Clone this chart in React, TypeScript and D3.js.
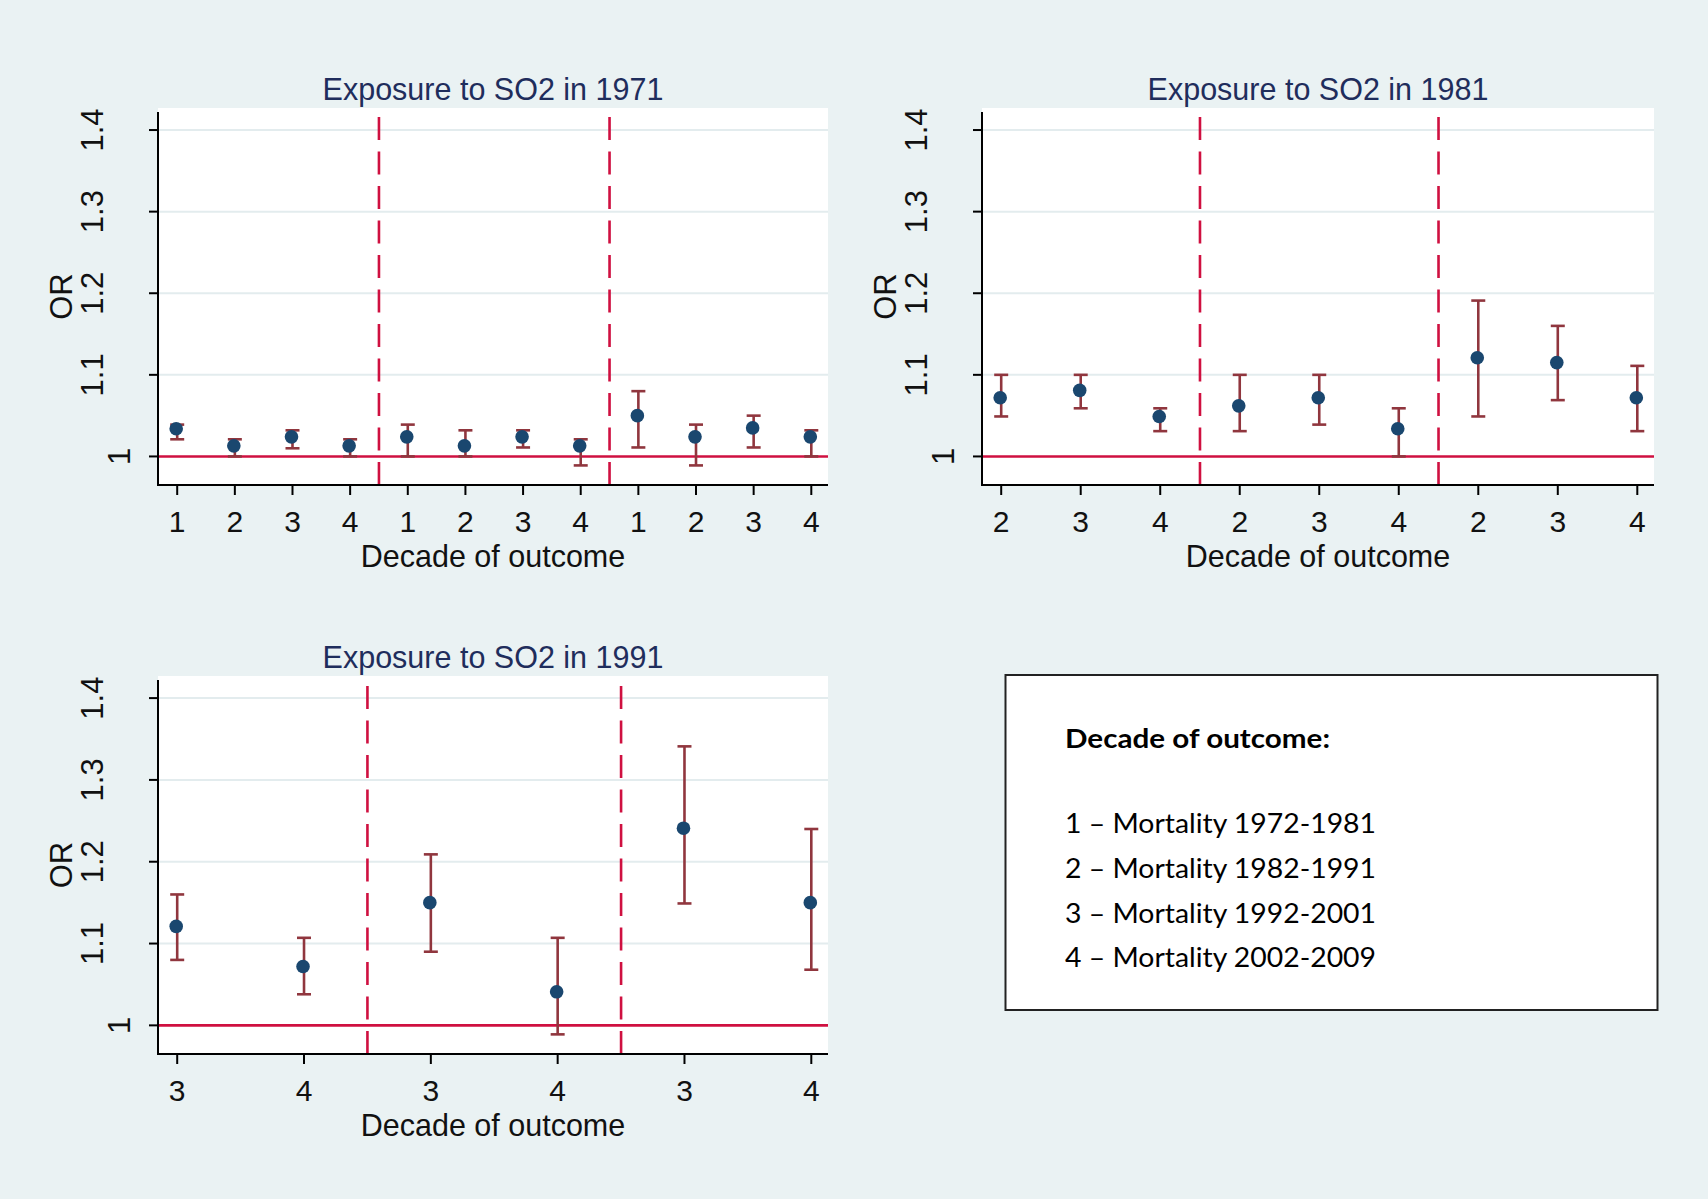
import * as d3 from 'd3';

// Odds ratios with 95% CI
const decades1971 = [1, 2, 3, 4, 1, 2, 3, 4, 1, 2, 3, 4];
const or1971 = [1.034, 1.013, 1.024, 1.013, 1.024, 1.013, 1.024, 1.013, 1.05, 1.024, 1.035, 1.024];
const lo1971 = [1.021, 1.0, 1.01, 1.0, 1.0, 1.0, 1.011, 0.989, 1.011, 0.989, 1.011, 1.0];
const hi1971 = [1.039, 1.021, 1.032, 1.021, 1.039, 1.032, 1.032, 1.021, 1.08, 1.039, 1.05, 1.032];

const decades1981 = [2, 3, 4, 2, 3, 4, 2, 3, 4];
const or1981 = [1.072, 1.081, 1.049, 1.062, 1.072, 1.034, 1.121, 1.115, 1.072];
const lo1981 = [1.049, 1.059, 1.031, 1.031, 1.039, 1.0, 1.049, 1.069, 1.031];
const hi1981 = [1.1, 1.1, 1.059, 1.1, 1.1, 1.059, 1.191, 1.16, 1.111];

const decades1991 = [3, 4, 3, 4, 3, 4];
const or1991 = [1.121, 1.072, 1.15, 1.041, 1.241, 1.15];
const lo1991 = [1.08, 1.038, 1.09, 0.989, 1.149, 1.068];
const hi1991 = [1.16, 1.107, 1.209, 1.107, 1.341, 1.24];

const yTickValues = [1, 1.1, 1.2, 1.3, 1.4];
const yTickLabels = ['1', '1.1', '1.2', '1.3', '1.4'];
const yDomain = [0.965, 1.427];
const nGroups = 3;

const legendTitle = 'Decade of outcome:';
const legendCodes = [1, 2, 3, 4];
const legendPeriods = ['1972-1981', '1982-1991', '1992-2001', '2002-2009'];

const BG = '#eaf2f3';
const NAVY = '#1a476f';
const MAROON = '#90363e';
const RED = '#cf1040';
const TITLE = '#1f2d5c';
const FONT = '"Liberation Sans", Arial, sans-serif';

const boxes = [
  { left: 158, top: 108, right: 828, bottom: 485 },
  { left: 982, top: 108, right: 1654, bottom: 485 },
  { left: 158, top: 676, right: 828, bottom: 1054 },
];

function Panel({ title, decades, est, lo, hi, box }) {
  const n = decades.length;
  const x = d3
    .scaleLinear()
    .domain([0, n - 1])
    .range([box.left + 19.2, box.right - 16.7]);
  const y = d3.scaleLinear().domain(yDomain).range([box.bottom, box.top]);
  const groupSize = n / nGroups;
  const seps = d3.range(1, nGroups).map((k) => k * groupSize - 0.5);
  const cx = (box.left + box.right) / 2;
  const cy = (box.top + box.bottom) / 2;

  return (
    <g>
      <rect
        x={box.left}
        y={box.top}
        width={box.right - box.left}
        height={box.bottom - box.top}
        fill="#fff"
      />
      {/* gridlines */}
      {yTickValues.slice(1).map((v) => (
        <line
          key={v}
          x1={box.left}
          x2={box.right}
          y1={y(v)}
          y2={y(v)}
          stroke="#e3ecee"
          strokeWidth={2}
        />
      ))}
      {/* reference line at OR = 1 */}
      <line x1={box.left} x2={box.right} y1={y(1)} y2={y(1)} stroke={RED} strokeWidth={2.6} />
      {/* group separators */}
      {seps.map((s) => (
        <line
          key={s}
          x1={x(s)}
          x2={x(s)}
          y1={box.bottom}
          y2={box.top + 4}
          stroke={RED}
          strokeWidth={2.6}
          strokeDasharray="23 11.5"
        />
      ))}
      {/* CIs */}
      {decades.map((d, i) => (
        <g key={i} stroke={MAROON} strokeWidth={2.6}>
          <line x1={x(i)} x2={x(i)} y1={y(lo[i])} y2={y(hi[i])} />
          <line x1={x(i) - 7} x2={x(i) + 7} y1={y(lo[i])} y2={y(lo[i])} />
          <line x1={x(i) - 7} x2={x(i) + 7} y1={y(hi[i])} y2={y(hi[i])} />
        </g>
      ))}
      {est.map((v, i) => (
        <circle key={i} cx={x(i) - 1} cy={y(v)} r={6.8} fill={NAVY} />
      ))}
      {/* axes */}
      <line x1={box.left} x2={box.left} y1={box.top + 4} y2={box.bottom + 1} stroke="#000" strokeWidth={2} />
      <line x1={box.left - 1} x2={box.right} y1={box.bottom} y2={box.bottom} stroke="#000" strokeWidth={2} />
      {yTickValues.map((v, i) => (
        <g key={v}>
          <line x1={box.left - 9} x2={box.left} y1={y(v)} y2={y(v)} stroke="#000" strokeWidth={2} />
          <text
            transform={`translate(${box.left - (yTickLabels[i].length === 1 ? 28 : 55)},${y(v)}) rotate(-90)`}
            textAnchor="middle"
            fontSize={31}
            fill="#111"
          >
            {yTickLabels[i]}
          </text>
        </g>
      ))}
      {decades.map((d, i) => (
        <g key={i}>
          <line x1={x(i)} x2={x(i)} y1={box.bottom} y2={box.bottom + 10} stroke="#000" strokeWidth={2} />
          <text x={x(i)} y={box.bottom + 47} textAnchor="middle" fontSize={30} fill="#111">
            {d}
          </text>
        </g>
      ))}
      <text x={cx} y={box.top - 8} textAnchor="middle" fontSize={30.5} fill={TITLE}>
        {title}
      </text>
      <text x={cx} y={box.bottom + 81.5} textAnchor="middle" fontSize={30.5} fill="#111">
        Decade of outcome
      </text>
      <text
        transform={`translate(${box.left - 86},${cy}) rotate(-90)`}
        textAnchor="middle"
        fontSize={31}
        fill="#111"
      >
        OR
      </text>
    </g>
  );
}

export default function App() {
  return (
    <div style={{ position: 'absolute', left: 0, top: 0 }}>
      <svg width={1708} height={1199} fontFamily={FONT} style={{ display: 'block' }}>
        <rect width={1708} height={1199} fill={BG} />
        <Panel title="Exposure to SO2 in 1971" decades={decades1971} est={or1971} lo={lo1971} hi={hi1971} box={boxes[0]} />
        <Panel title="Exposure to SO2 in 1981" decades={decades1981} est={or1981} lo={lo1981} hi={hi1981} box={boxes[1]} />
        <Panel title="Exposure to SO2 in 1991" decades={decades1991} est={or1991} lo={lo1991} hi={hi1991} box={boxes[2]} />
        <g fontFamily="Lato, 'Open Sans', sans-serif" fill="#000">
          <rect x={1005.5} y={675} width={652} height={335} fill="#fff" stroke="#222" strokeWidth={2} />
          <text x={1065} y={748.3} fontSize={26} fontWeight="bold" textLength={265} lengthAdjust="spacingAndGlyphs">
            {legendTitle}
          </text>
          {legendCodes.map((c, i) => (
            <text
              key={c}
              x={1065}
              y={832.7 + i * 44.9}
              fontSize={27}
              textLength={311}
              lengthAdjust="spacingAndGlyphs"
            >
              {`${c} – Mortality ${legendPeriods[i]}`}
            </text>
          ))}
        </g>
      </svg>
    </div>
  );
}
